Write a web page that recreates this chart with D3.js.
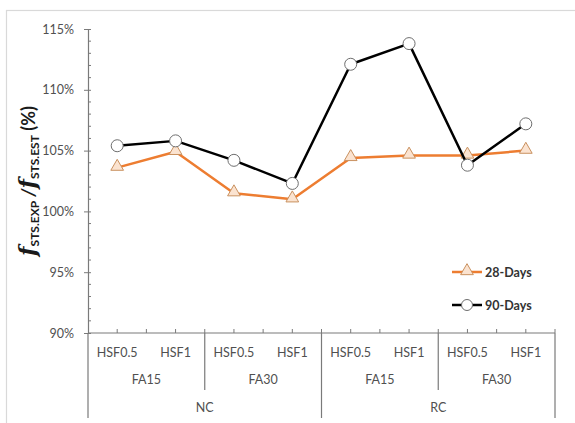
<!DOCTYPE html>
<html>
<head>
<meta charset="utf-8">
<script src="https://cdn.jsdelivr.net/npm/d3@7"></script>
<style>
  html, body { margin: 0; padding: 0; background: #fff; }
  svg { display: block; }
</style>
</head>
<body>
<svg id="chart" width="575" height="423"></svg>
<script>
// Category levels of the x axis (innermost first)
const categories = ["HSF0.5", "HSF1", "HSF0.5", "HSF1", "HSF0.5", "HSF1", "HSF0.5", "HSF1"];
const ashGroups = ["FA15", "FA30", "FA15", "FA30"];
const concreteGroups = ["NC", "RC"];

// Ratio of experimental to estimated splitting tensile strength (%)
const days28 = [103.6, 104.9, 101.5, 101.0, 104.4, 104.6, 104.6, 105.0];
const days90 = [105.4, 105.8, 104.2, 102.3, 112.1, 113.8, 103.8, 107.2];

const yTicks = [90, 95, 100, 105, 110, 115];
const seriesNames = ["28-Days", "90-Days"];

(function () {
const svg = d3.select("#chart");
const font = "Lato, 'Open Sans', sans-serif";

const plotLeft = 88, plotRight = 555, plotTop = 29, plotBottom = 333;

const x = d3.scaleBand().domain(d3.range(categories.length)).range([plotLeft, plotRight]);
const y = d3.scaleLinear().domain([90, 115]).range([plotBottom, plotTop]);

// outer frame
svg.append("rect")
  .attr("x", 6.5).attr("y", 10.5).attr("width", 580).attr("height", 430)
  .attr("fill", "#fff").attr("stroke", "#d9d9d9").attr("stroke-width", 1.2);

const axisColor = "#7a7a7a";
const textColor = "#505050";

// y axis
const yAxis = svg.append("g").attr("transform", `translate(${plotLeft},0)`)
  .call(d3.axisLeft(y).tickValues(yTicks).tickSize(3).tickPadding(11)
    .tickFormat(d => d + "%"));
yAxis.select(".domain").attr("stroke", axisColor).attr("stroke-width", 1.2);
yAxis.selectAll(".tick line").attr("stroke", axisColor).attr("x2", -4).attr("x1", 3);
yAxis.selectAll(".tick text").attr("fill", textColor)
  .style("font-family", font).style("font-size", "12.5px");

// minor y ticks
svg.append("g").selectAll("line")
  .data(d3.range(90, 116, 1).filter(v => v % 5 !== 0))
  .join("line")
  .attr("x1", plotLeft).attr("x2", plotLeft + 3)
  .attr("y1", d => y(d)).attr("y2", d => y(d))
  .attr("stroke", axisColor).attr("stroke-width", 1);

// x axis line
svg.append("line")
  .attr("x1", plotLeft).attr("x2", plotRight).attr("y1", plotBottom).attr("y2", plotBottom)
  .attr("stroke", axisColor).attr("stroke-width", 1.2);

// small upward ticks at category centres and edges
const bw = x.bandwidth();
const tickXs = [];
categories.forEach((c, i) => { tickXs.push(x(i) + bw / 2); tickXs.push(x(i) + bw); });
svg.append("g").selectAll("line").data(tickXs).join("line")
  .attr("x1", d => d).attr("x2", d => d)
  .attr("y1", plotBottom).attr("y2", plotBottom - 4)
  .attr("stroke", axisColor).attr("stroke-width", 1);

// group separators below the axis
const sepFA = [2, 6].map(i => x(i));
const sepOuter = [0, 4].map(i => x(i)).concat([plotRight]);
svg.append("g").selectAll("line").data(sepFA).join("line")
  .attr("x1", d => d).attr("x2", d => d).attr("y1", plotBottom).attr("y2", 390)
  .attr("stroke", axisColor).attr("stroke-width", 1.2);
svg.append("g").selectAll("line").data(sepOuter).join("line")
  .attr("x1", d => d).attr("x2", d => d).attr("y1", plotBottom).attr("y2", 418)
  .attr("stroke", axisColor).attr("stroke-width", 1.2);

// category labels
svg.append("g").selectAll("text").data(categories).join("text")
  .attr("x", (d, i) => x(i) + bw / 2).attr("y", 357)
  .attr("text-anchor", "middle").attr("fill", textColor)
  .style("font-family", font).style("font-size", "12.5px")
  .text(d => d);
svg.append("g").selectAll("text").data(ashGroups).join("text")
  .attr("x", (d, i) => x(i * 2) + bw).attr("y", 384)
  .attr("text-anchor", "middle").attr("fill", textColor)
  .style("font-family", font).style("font-size", "12.5px")
  .text(d => d);
svg.append("g").selectAll("text").data(concreteGroups).join("text")
  .attr("x", (d, i) => x(i * 4) + 2 * bw).attr("y", 412)
  .attr("text-anchor", "middle").attr("fill", textColor)
  .style("font-family", font).style("font-size", "12.5px")
  .text(d => d);

// y axis title
const yt = svg.append("text")
  .attr("transform", "translate(35,181) rotate(-90)")
  .attr("text-anchor", "middle")
  .attr("fill", "#1a1a1a")
  .style("font-family", font).style("font-weight", "bold");
yt.append("tspan").style("font-family", "'DejaVu Serif', serif").style("font-style", "italic")
  .style("font-size", "22px").text("f");
yt.append("tspan").style("font-size", "12px").attr("dy", 4).text("STS.EXP");
yt.append("tspan").style("font-size", "19px").style("font-style", "italic").attr("dy", -4).text(" /");
yt.append("tspan").style("font-family", "'DejaVu Serif', serif").style("font-style", "italic")
  .style("font-size", "22px").text("f");
yt.append("tspan").style("font-size", "12px").attr("dy", 4).text("STS.EST");
yt.append("tspan").style("font-size", "18px").attr("dy", -4).text(" (%)");

// series
const line = d3.line().x((d, i) => x(i) + bw / 2).y(d => y(d));
const orange = "#ed7d31";

svg.append("path").datum(days28).attr("d", line)
  .attr("fill", "none").attr("stroke", orange).attr("stroke-width", 2.5)
  .attr("stroke-linejoin", "round");
const tri = d3.symbol().type(d3.symbolTriangle).size(70);
svg.append("g").selectAll("path").data(days28).join("path")
  .attr("d", tri)
  .attr("transform", (d, i) => `translate(${x(i) + bw / 2},${y(d) - 1})`)
  .attr("fill", "#fbe3d0").attr("stroke", "#c9915f").attr("stroke-width", 1);

svg.append("path").datum(days90).attr("d", line)
  .attr("fill", "none").attr("stroke", "#000").attr("stroke-width", 2.5)
  .attr("stroke-linejoin", "round");
svg.append("g").selectAll("circle").data(days90).join("circle")
  .attr("cx", (d, i) => x(i) + bw / 2).attr("cy", d => y(d)).attr("r", 6)
  .attr("fill", "#fff").attr("stroke", "#6e6e6e").attr("stroke-width", 1);

// legend
const legend = svg.append("g");
const legendY = [272, 305];
seriesNames.forEach((name, k) => {
  const g = legend.append("g").attr("transform", `translate(452,${legendY[k]})`);
  g.append("line").attr("x1", 0).attr("x2", 30).attr("y1", 0).attr("y2", 0)
    .attr("stroke", k === 0 ? orange : "#000").attr("stroke-width", 2.5);
  if (k === 0) {
    g.append("path").attr("d", tri).attr("transform", "translate(15,-1)")
      .attr("fill", "#fbe3d0").attr("stroke", "#c9915f").attr("stroke-width", 1);
  } else {
    g.append("circle").attr("cx", 15).attr("cy", 0).attr("r", 5.5)
      .attr("fill", "#fff").attr("stroke", "#6e6e6e").attr("stroke-width", 1);
  }
  g.append("text").attr("x", 33).attr("y", 4.5)
    .attr("fill", "#333").style("font-family", font)
    .style("font-size", "12.5px").style("font-weight", "bold")
    .text(name);
});
})();
</script>
</body>
</html>
